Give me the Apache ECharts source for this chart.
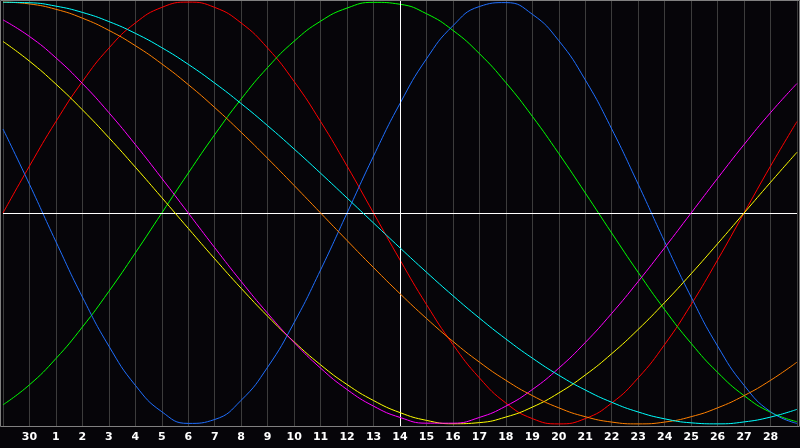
<!DOCTYPE html>
<html>
<head>
<meta charset="utf-8">
<script src="https://cdn.jsdelivr.net/npm/echarts@6/dist/echarts.min.js"></script>
<style>
html,body{margin:0;padding:0;background:#060509;}
#chart{width:800px;height:448px;}
</style>
</head>
<body>
<div id="chart"></div>
<script>
// x-axis tick labels (day of month); first/last slots are unlabeled edges
var dayLabels = ["", "30", "1", "2", "3", "4", "5", "6", "7", "8", "9", "10", "11", "12", "13", "14",
  "15", "16", "17", "18", "19", "20", "21", "22", "23", "24", "25", "26", "27", "28", ""];
var todayIndex = 15; // "14"

// values, one per day slot
var red = [0, 0.2225, 0.4339, 0.6235, 0.7818, 0.9010, 0.9749, 1, 0.9749, 0.9010, 0.7818, 0.6235, 0.4339, 0.2225, 0,
  -0.2225, -0.4339, -0.6235, -0.7818, -0.9010, -0.9749, -1, -0.9749, -0.9010, -0.7818, -0.6235, -0.4339, -0.2225, 0, 0.2225, 0.4339];
var green = [-0.9096, -0.8146, -0.6901, -0.5406, -0.3717, -0.1893, 0, 0.1893, 0.3717, 0.5406, 0.6901, 0.8146, 0.9096, 0.9718, 0.9989,
  0.9898, 0.9450, 0.8660, 0.7557, 0.6182, 0.4582, 0.2817, 0.0951, -0.0951, -0.2817, -0.4582, -0.6182, -0.7557, -0.8660, -0.9450, -0.9898];
var blue = [0.3984, 0.1362, -0.1362, -0.3984, -0.6311, -0.8170, -0.9423, -0.9977, -0.9791, -0.8879, -0.7308, -0.5196, -0.2698, 0, 0.2698,
  0.5196, 0.7308, 0.8879, 0.9791, 0.9977, 0.9423, 0.8170, 0.6311, 0.3984, 0.1362, -0.1362, -0.3984, -0.6311, -0.8170, -0.9423, -0.9977];
var yellow = [0.8135, 0.7200, 0.6110, 0.4894, 0.3572, 0.2174, 0.0730, -0.0730, -0.2174, -0.3572, -0.4894, -0.6110, -0.7200, -0.8135, -0.8893,
  -0.9465, -0.9833, -0.9993, -0.9940, -0.9675, -0.9204, -0.8533, -0.7683, -0.6671, -0.5519, -0.4245, -0.2881, -0.1456, 0, 0.1456, 0.2881];
var magenta = [0.9158, 0.8372, 0.7357, 0.6142, 0.4759, 0.3247, 0.1646, 0, -0.1646, -0.3247, -0.4759, -0.6142, -0.7357, -0.8372, -0.9158,
  -0.9694, -0.9966, -0.9966, -0.9694, -0.9158, -0.8372, -0.7357, -0.6142, -0.4759, -0.3247, -0.1646, 0, 0.1646, 0.3247, 0.4759, 0.6142];
var orange = [1, 0.9914, 0.9659, 0.9239, 0.8660, 0.7934, 0.7071, 0.6088, 0.5, 0.3827, 0.2588, 0.1305, 0, -0.1305, -0.2588,
  -0.3827, -0.5, -0.6088, -0.7071, -0.7934, -0.8660, -0.9239, -0.9659, -0.9914, -1, -0.9914, -0.9659, -0.9239, -0.8660, -0.7934, -0.7071];
var cyan = [0.9991, 0.9970, 0.9809, 0.9511, 0.9078, 0.8519, 0.7839, 0.7049, 0.6160, 0.5187, 0.4139, 0.3034, 0.1886, 0.0711, -0.0474,
  -0.1652, -0.2807, -0.3922, -0.4983, -0.5973, -0.6882, -0.7693, -0.8393, -0.8976, -0.9435, -0.9760, -0.9949, -0.9998, -0.9907, -0.9677, -0.9311];

var seriesList = [
  {name: 'red', data: red, color: '#ff0000'},
  {name: 'green', data: green, color: '#00ff00'},
  {name: 'blue', data: blue, color: '#1f6fff'},
  {name: 'yellow', data: yellow, color: '#ffff00'},
  {name: 'magenta', data: magenta, color: '#ff00ff'},
  {name: 'orange', data: orange, color: '#ff8000'},
  {name: 'cyan', data: cyan, color: '#00ffff'}
];

var chart = echarts.init(document.getElementById('chart'), null, {renderer: 'canvas'});

var series = seriesList.map(function (s, k) {
  var o = {
    name: s.name,
    type: 'line',
    data: s.data,
    smooth: 0.5,
    showSymbol: false,
    symbol: 'none',
    silent: true,
    lineStyle: {color: s.color, width: 1},
    itemStyle: {color: s.color},
    z: 2 + k
  };
  if (k === seriesList.length - 1) {
    o.markLine = {
      silent: true,
      symbol: 'none',
      animation: false,
      label: {show: false},
      lineStyle: {color: '#ffffff', width: 1, type: 'solid'},
      data: [{xAxis: todayIndex}, {yAxis: 0}]
    };
  }
  return o;
});

chart.setOption({
  backgroundColor: '#060509',
  animation: false,
  grid: {left: 0, right: 0, top: 0, bottom: 22, containLabel: false},
  xAxis: {
    type: 'category',
    data: dayLabels,
    boundaryGap: false,
    axisLine: {show: false},
    axisTick: {show: false},
    axisLabel: {
      show: true, interval: 0, color: '#ffffff', fontWeight: 'bold',
      fontFamily: 'DejaVu Sans', fontSize: 11, margin: 6
    },
    splitLine: {show: true, interval: 0, lineStyle: {color: '#3c3c3c', width: 1}}
  },
  yAxis: {
    type: 'value',
    min: -1.01,
    max: 1.01,
    axisLine: {show: false},
    axisTick: {show: false},
    axisLabel: {show: false},
    splitLine: {show: false}
  },
  graphic: [{
    type: 'rect',
    silent: true,
    z: 100,
    shape: {x: 0.5, y: 0.5, width: 799, height: 426},
    style: {fill: null, stroke: '#808080', lineWidth: 1}
  }],
  series: series
});
</script>
</body>
</html>
